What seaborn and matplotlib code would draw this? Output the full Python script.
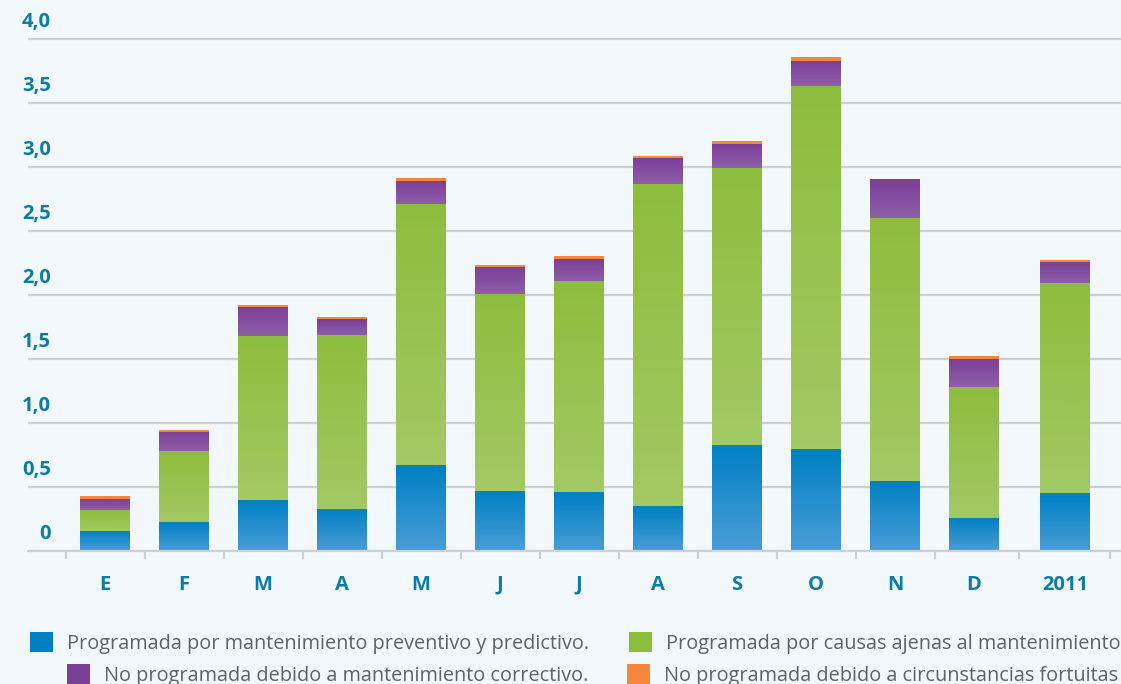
import numpy as np
import pandas as pd
import matplotlib
matplotlib.use("Agg")
import matplotlib.pyplot as plt
import matplotlib.transforms as mtransforms
from matplotlib.colors import LinearSegmentedColormap
from matplotlib.patches import Patch
import seaborn as sns

# datos (horas promedio de indisponibilidad por mes)
meses = ["E", "F", "M", "A", "M", "J", "J", "A", "S", "O", "N", "D", "2011"]
preventivo = [0.16, 0.23, 0.40, 0.33, 0.67, 0.47, 0.46, 0.35, 0.83, 0.80, 0.55, 0.26, 0.45]
ajenas = [0.16, 0.55, 1.28, 1.36, 2.04, 1.54, 1.65, 2.52, 2.16, 2.83, 2.05, 1.02, 1.64]
correctivo = [0.09, 0.15, 0.23, 0.12, 0.18, 0.21, 0.17, 0.20, 0.19, 0.20, 0.30, 0.22, 0.17]
fortuitas = [0.016, 0.015, 0.015, 0.012, 0.016, 0.015, 0.016, 0.015, 0.02, 0.03, 0.0, 0.018, 0.015]

etiquetas = ["Programada por mantenimiento preventivo y predictivo.",
             "Programada por causas ajenas al mantenimiento",
             "No programada debido a mantenimiento correctivo.",
             "No programada debido a circunstancias fortuitas"]

yticks = [0, 0.5, 1.0, 1.5, 2.0, 2.5, 3.0, 3.5, 4.0]

# colores (arriba oscuro, abajo claro)
colores = [("#0080c4", "#4a9dd6"),
           ("#8dbd3d", "#a3c964"),
           ("#7b3f98", "#8e5fa8"),
           ("#f5873c", "#f5873c")]
fondo = "#f3f8fc"
azul_txt = "#0a7ca6"
gris = "#cdd0d5"

sns.set_theme(style="white")
plt.rcParams["font.family"] = ["Open Sans", "DejaVu Sans"]

W, H = 1121, 684
fig = plt.figure(figsize=(W / 100, H / 100), dpi=100, facecolor=fondo)
ax = fig.add_axes([28 / W, 133 / H, 1 - 28 / W, 4.02 * 128 / H])
ax.set_facecolor(fondo)

# 2011 va algo separado del resto
pos = np.arange(len(meses), dtype=float)
pos[-1] = 12.15

df = pd.DataFrame({"pos": pos, "preventivo": preventivo, "ajenas": ajenas,
                   "correctivo": correctivo, "fortuitas": fortuitas})
cols = ["preventivo", "ajenas", "correctivo", "fortuitas"]

abajo = np.zeros(len(meses))
for col, (c_top, c_bot) in zip(cols, colores):
    n0 = len(ax.patches)
    sns.barplot(data=df, x="pos", y=col, native_scale=True, bottom=abajo.copy(),
                width=0.63, color=c_top, saturation=1, errorbar=None,
                linewidth=0, ax=ax)
    cmap = LinearSegmentedColormap.from_list(col, [c_bot, c_top])
    for p in ax.patches[n0:]:
        if p.get_height() <= 0:
            continue
        x0, y0 = p.get_x(), p.get_y()
        ax.imshow(np.linspace(0, 1, 50).reshape(-1, 1), cmap=cmap, aspect="auto",
                  origin="lower", extent=[x0, x0 + p.get_width(), y0, y0 + p.get_height()],
                  zorder=p.get_zorder() + 0.1, interpolation="bilinear")
    abajo = abajo + df[col].to_numpy()

ax.set_xlim(-0.975, 12.86)
ax.set_ylim(0, 4.02)
ax.set_xlabel("")
ax.set_ylabel("")

# rejilla
ax.set_yticks(yticks)
ax.yaxis.grid(True, color=gris, lw=1.6)
ax.set_axisbelow(True)
ax.tick_params(axis="y", length=0, labelleft=False)

for s in ["top", "right", "left"]:
    ax.spines[s].set_visible(False)
ax.spines["bottom"].set_color(gris)
ax.spines["bottom"].set_linewidth(1.6)

# etiquetas del eje y por encima de las lineas
trans = mtransforms.blended_transform_factory(fig.transFigure, ax.transData)
trans = mtransforms.offset_copy(trans, fig=fig, x=0, y=7, units="dots")
for t in yticks:
    lab = "0" if t == 0 else f"{t:.1f}".replace(".", ",")
    ax.text(51 / W, t, lab, transform=trans, ha="right", va="bottom",
            fontsize=14.5, fontweight="bold", color=azul_txt)

# eje x: etiquetas centradas, marcas entre categorias
ax.set_xticks(pos)
ax.set_xticklabels(meses, fontsize=14.5, fontweight="bold", color=azul_txt)
ax.tick_params(axis="x", which="major", length=0, pad=17)
limites = np.concatenate([[pos[0] - 0.5], (pos[:-1] + pos[1:]) / 2,
                          [pos[-1] + (pos[-1] - pos[-2]) / 2]])
ax.set_xticks(limites, minor=True)
ax.tick_params(axis="x", which="minor", length=6, width=1.6, color=gris,
               direction="out", bottom=True)

# leyenda
anclas = [(30, 643), (629, 643), (67, 675), (627, 675)]
for lab, (c_top, _), (xa, ya) in zip(etiquetas, colores, anclas):
    fig.legend(handles=[Patch(facecolor=c_top, edgecolor="none", label=lab)],
               loc="center left", bbox_to_anchor=(xa / W, 1 - ya / H),
               frameon=False, fontsize=14.3, labelcolor="#5f6368",
               handlelength=1.15, handleheight=1.15, handletextpad=0.7,
               borderpad=0, borderaxespad=0)

fig.savefig("out.png", dpi=100, facecolor=fondo)
